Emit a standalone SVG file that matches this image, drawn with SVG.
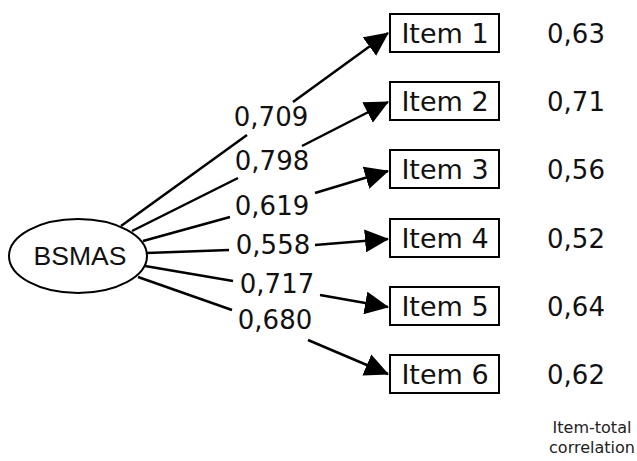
<svg xmlns="http://www.w3.org/2000/svg" width="637" height="461" viewBox="0 0 637 461">
  <style>
    .shape { fill: #fff; stroke: #000; stroke-width: 2; }
    .edge { fill: none; stroke: #000; stroke-width: 2.5; }
    .v { font-family: "DejaVu Sans", Verdana, sans-serif; fill: #111; }
    .item { font-size: 27px; text-anchor: middle; }
    .load { font-size: 26px; text-anchor: middle; }
    .corr { font-size: 26px; text-anchor: middle; }
    .note { font-size: 16px; text-anchor: middle; fill: #222; }
    .latent { font-family: "Liberation Sans", Arial, sans-serif; font-size: 26.5px; text-anchor: middle; fill: #111; }
  </style>
  <defs>
    <marker id="arrow" markerUnits="userSpaceOnUse" markerWidth="24" markerHeight="23" refX="23" refY="11.5" orient="auto">
      <path d="M0,0 L24,11.5 L0,23 z" fill="#000"/>
    </marker>
  </defs>
  <rect width="637" height="461" fill="#fff"/>

  <!-- paths from the latent factor to each item, broken around the loading labels -->
  <g id="connectors">
    <line class="edge" x1="121" y1="226" x2="247" y2="135"/>
    <line class="edge" x1="293" y1="102" x2="388" y2="33" marker-end="url(#arrow)"/>
    <line class="edge" x1="132" y1="231" x2="238" y2="178"/>
    <line class="edge" x1="302" y1="146" x2="388" y2="102" marker-end="url(#arrow)"/>
    <line class="edge" x1="143" y1="241" x2="230" y2="217"/>
    <line class="edge" x1="315" y1="193" x2="388" y2="171" marker-end="url(#arrow)"/>
    <line class="edge" x1="147" y1="253" x2="229" y2="250"/>
    <line class="edge" x1="315" y1="245" x2="388" y2="239" marker-end="url(#arrow)"/>
    <line class="edge" x1="145" y1="266" x2="233" y2="281"/>
    <line class="edge" x1="320" y1="295" x2="388" y2="307" marker-end="url(#arrow)"/>
    <line class="edge" x1="138" y1="277" x2="232" y2="310"/>
    <line class="edge" x1="308" y1="340" x2="388" y2="374" marker-end="url(#arrow)"/>
  </g>

  <!-- factor loadings -->
  <g id="loadings" class="v">
    <text class="load" x="271" y="126">0,709</text>
    <text class="load" x="272" y="170">0,798</text>
    <text class="load" x="272" y="215">0,619</text>
    <text class="load" x="273" y="254">0,558</text>
    <text class="load" x="277" y="293">0,717</text>
    <text class="load" x="275" y="329">0,680</text>
  </g>

  <g id="bsmas">
    <ellipse class="shape" cx="78" cy="256" rx="69" ry="37"/>
    <text class="latent" x="80" y="265">BSMAS</text>
  </g>

  <g id="item1">
    <rect class="shape" x="390" y="14" width="109" height="38"/>
    <text class="v item" x="445" y="43">Item 1</text>
  </g>
  <g id="item2">
    <rect class="shape" x="390" y="82" width="109" height="38"/>
    <text class="v item" x="445" y="111">Item 2</text>
  </g>
  <g id="item3">
    <rect class="shape" x="390" y="150" width="109" height="38"/>
    <text class="v item" x="445" y="179">Item 3</text>
  </g>
  <g id="item4">
    <rect class="shape" x="390" y="219" width="109" height="38"/>
    <text class="v item" x="445" y="248">Item 4</text>
  </g>
  <g id="item5">
    <rect class="shape" x="390" y="287" width="109" height="38"/>
    <text class="v item" x="445" y="316">Item 5</text>
  </g>
  <g id="item6">
    <rect class="shape" x="390" y="355" width="109" height="38"/>
    <text class="v item" x="445" y="384">Item 6</text>
  </g>

  <!-- item-total correlations -->
  <g id="correlations" class="v">
    <text class="corr" x="576" y="43">0,63</text>
    <text class="corr" x="576" y="111">0,71</text>
    <text class="corr" x="576" y="179">0,56</text>
    <text class="corr" x="576" y="248">0,52</text>
    <text class="corr" x="576" y="316">0,64</text>
    <text class="corr" x="576" y="384">0,62</text>
    <text class="note" x="592" y="433">Item-total</text>
    <text class="note" x="592" y="453">correlation</text>
  </g>
</svg>
